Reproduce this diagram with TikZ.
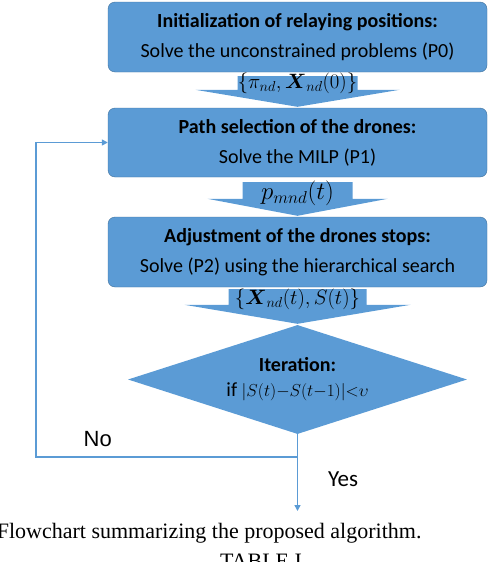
\documentclass[tikz,border=0pt]{standalone}
\usepackage{amsmath}
\usepackage{fontspec}
\setmainfont{Carlito}
\newfontfamily\arialfont{Liberation Sans}
\newfontfamily\timesfont{Liberation Serif}
\usetikzlibrary{shapes.geometric,arrows.meta,calc}

\definecolor{boxblue}{HTML}{5B9BD5}
\definecolor{boxline}{HTML}{41719C}

% fat arrow between two nodes: from, to, shaft half width, head half width, head length, gap
\newcommand{\flowarrow}[6]{%
  \fill[boxblue] ($(#1.south)+(-#3,#6)$) -- ($(#1.south)+(#3,#6)$)
    -- ($(#2.north)+(#3,-#5)$) -- ($(#2.north)+(#4,-#5)$)
    -- ($(#2.north)+(0,-1)$)
    -- ($(#2.north)+(-#4,-#5)$) -- ($(#2.north)+(-#3,-#5)$) -- cycle;}

\begin{document}
\begin{tikzpicture}[x=1pt, y=-1pt,
  stepbox/.style={rectangle, rounded corners=7pt, draw=boxline, fill=boxblue,
    minimum width=379pt, minimum height=70pt, align=center,
    font=\fontsize{20}{30}\selectfont},
  decision/.style={diamond, fill=boxblue, minimum width=339pt, minimum height=109pt,
    inner sep=0pt, aspect=3.1, align=center, font=\fontsize{20}{25}\selectfont},
  arrowlabel/.style={inner sep=0pt, font=\fontsize{20}{22}\selectfont},
  flowline/.style={draw=boxblue, line width=1.6pt},
  branch/.style={anchor=base}]
  \useasboundingbox (0,0) rectangle (488,562);
  \clip (0,0) rectangle (488,562);

  \node[stepbox] (init) at (297.5,37) {\textbf{Initialization of relaying positions:}\\ Solve the unconstrained problems (P0)};
  \node[stepbox, minimum height=69pt] (path) at (297.5,142.5) {\textbf{Path selection of the drones:}\\ Solve the MILP (P1)};
  \node[stepbox] (adjust) at (297.5,252) {\textbf{Adjustment of the drones stops:}\\ Solve (P2) using the hierarchical search};
  \node[decision] (iter) at (297.5,379.5) {\textbf{Iteration:}\\ if {\fontsize{18}{20}\selectfont$|S(t){-}S(t{-}1)|{<}\upsilon$}};

  \flowarrow{init}{path}{60}{102}{18}{4}
  \flowarrow{path}{adjust}{55}{90}{18}{5}
  \flowarrow{adjust}{iter}{69}{113}{20}{2}

  \node[arrowlabel] (l1) at ($(init.south)+(0,11)$) {$\{\pi_{nd},\boldsymbol{X}_{nd}(0)\}$};
  \node[arrowlabel, font=\fontsize{23}{25}\selectfont] (l2) at ($(path.south)+(0,16)$) {$p_{mnd}(t)$};
  \node[arrowlabel] (l3) at ($(adjust.south)+(0,12)$) {$\{\boldsymbol{X}_{nd}(t),S(t)\}$};

  \coordinate (done) at (297.5,511);
  \coordinate (split) at (297.5,457);
  \coordinate (back) at (36,457);
  \draw[flowline, -{Triangle[length=6pt,width=6pt]}] (iter.south) -- (done);
  \draw[flowline, -{Triangle[length=6pt,width=6pt]}] (split) -- (back) |- (path.west);

  \node[branch, font=\arialfont\fontsize{22}{26}\selectfont] (no) at (97.7,446.7) {No};
  \node[branch, font=\fontsize{23}{27}\selectfont] (yes) at (343,486.7) {Yes};

  \node[anchor=base east, font=\timesfont\fontsize{22}{26}\selectfont] (cap) at (425,538) {Flowchart summarizing the proposed algorithm.};
  \node[anchor=base, font=\timesfont\fontsize{22}{26}\selectfont] (tab) at (261,568) {TABLE I};
\end{tikzpicture}
\end{document}
